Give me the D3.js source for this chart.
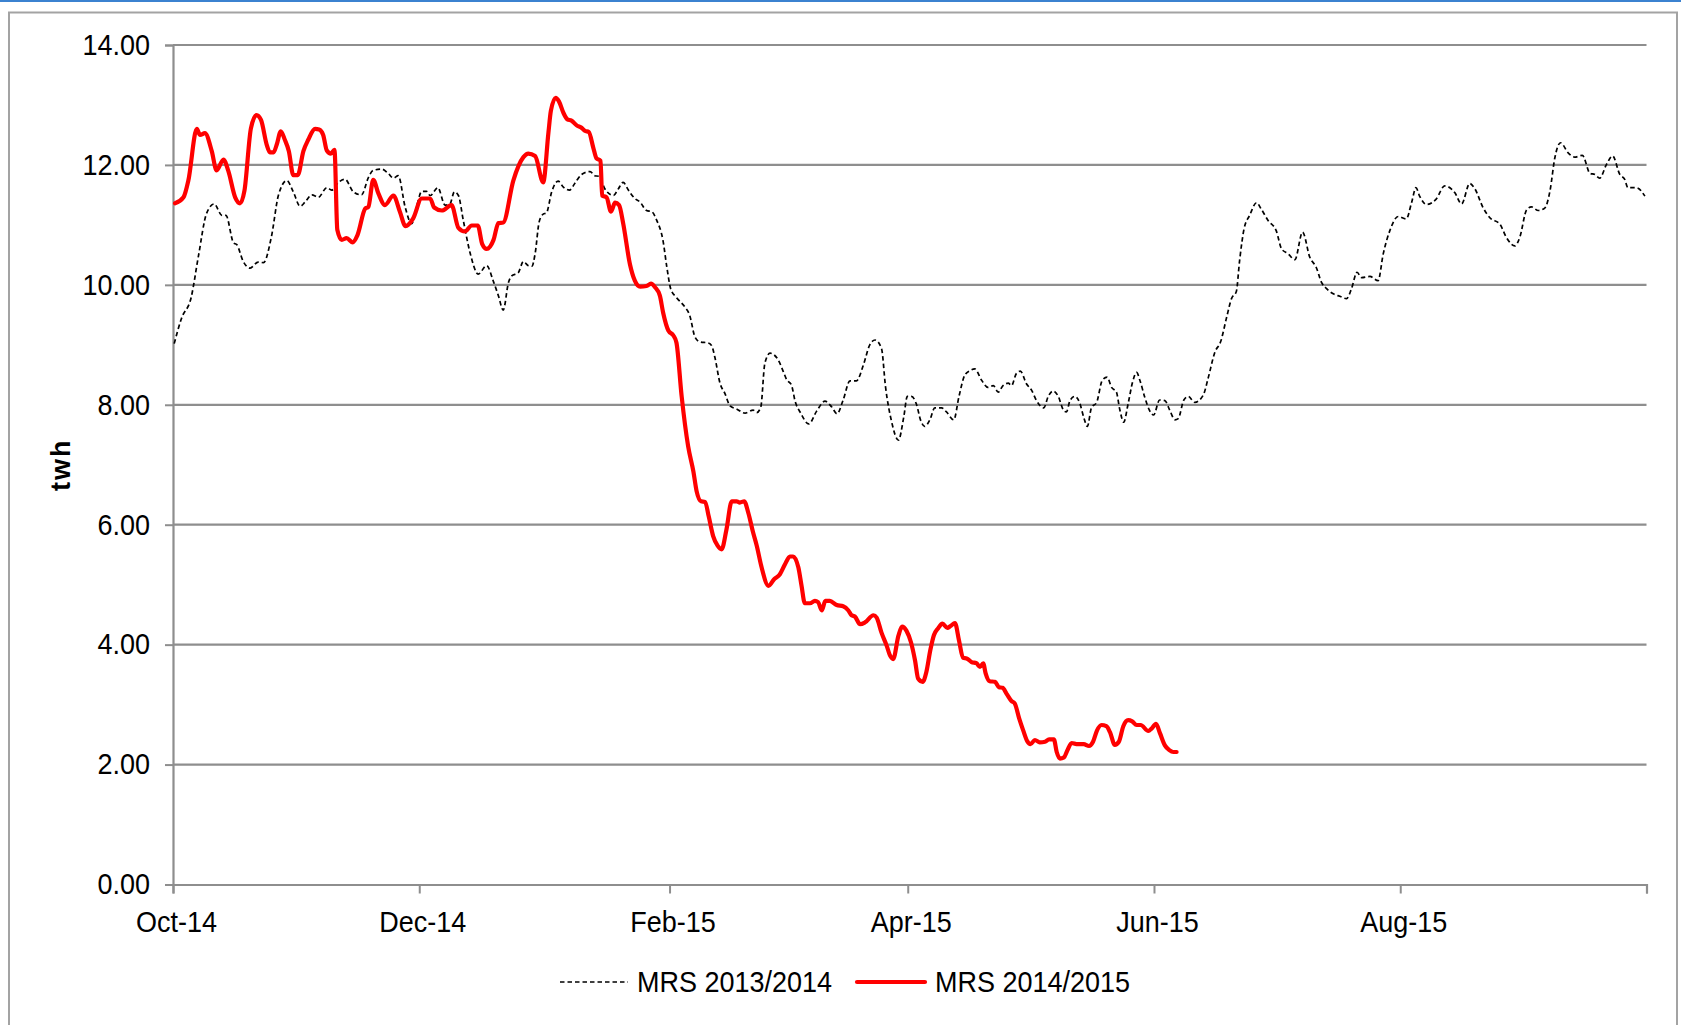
<!DOCTYPE html>
<html>
<head>
<meta charset="utf-8">
<script src="https://cdn.jsdelivr.net/npm/d3@7"></script>
<style>
  html, body { margin: 0; padding: 0; background: #fff; }
  svg { display: block; }
  text { font-family: "Liberation Sans", Arial, sans-serif; fill: #000; }
</style>
</head>
<body>
<svg id="chart" width="1681" height="1025"></svg>
<script>
// ---- DATA (day offsets counted from 1 Oct 2014, values in TWh) ----
const seasonStart = "2014-10-01";
const seasonEnd = "2015-10-01";
const tickDates = ["2014-10-01", "2014-12-01", "2015-02-01", "2015-04-01", "2015-06-01", "2015-08-01", "2015-10-01"];
const tickLabels = ["Oct-14", "Dec-14", "Feb-15", "Apr-15", "Jun-15", "Aug-15", ""];
const yTicks = [0, 2, 4, 6, 8, 10, 12, 14];
const seriesNames = ["MRS 2013/2014", "MRS 2014/2015"];
const yAxisTitle = "twh";

const mrs1314Days = [0.3,2.1,4.5,6.3,8.3,10.2,12.1,13.1,15.0,15.8,17.4,19.1,21.1,22.4,24.4,26.1,28.2,29.8,31.5,32.7,34.4,36.0,38.1,39.3,41.0,42.6,44.7,46.7,48.4,49.6,51.7,53.3,54.6,55.8,57.5,59.1,60.4,61.6,62.8,63.7,65.6,67.4,68.6,69.7,70.7,71.9,73.6,75.6,77.7,79.4,80.6,81.8,83.1,83.9,85.5,86.8,88.0,88.9,89.7,90.7,91.7,92.5,93.8,95.4,96.7,98.2,99.6,101.2,103.3,104.5,105.5,107.0,109.1,110.3,111.5,112.8,114.4,115.7,117.3,118.6,119.8,121.4,122.3,123.3,124.7,126.8,128.0,129.3,130.5,132.6,133.4,134.2,135.5,136.7,138.0,139.6,141.7,143.7,144.6,145.6,146.6,147.9,149.9,151.2,152.0,153.2,154.1,155.5,157.5,159.4,161.5,163.1,164.5,166.0,167.7,169.3,171.0,172.6,173.9,175.5,176.5,178.0,179.7,181.0,181.9,182.9,184.2,185.2,186.2,187.5,188.7,190.4,191.6,193.4,194.7,196.1,197.4,198.6,200.3,201.9,203.2,204.4,205.6,206.9,207.7,208.9,209.9,211.4,212.7,213.9,215.7,216.8,218.0,219.3,220.5,221.3,222.2,223.4,224.6,225.6,226.5,227.5,228.8,230.2,231.4,232.5,233.7,234.5,235.5,236.6,237.7,238.7,239.5,240.7,241.8,242.9,244.4,245.7,246.9,248.2,249.0,250.4,251.5,253.1,255.2,256.4,258.1,259.5,261.0,262.2,263.4,264.2,265.3,266.7,268.4,269.6,271.3,273.3,274.6,276.2,277.9,279.8,281.6,283.2,284.5,285.7,287.4,289.0,290.7,291.9,293.3,294.4,296.5,298.5,299.8,301.4,303.5,305.5,306.8,307.9,308.8,310.5,312.9,315.0,317.5,319.2,321.2,322.5,324.5,326.2,328.7,330.3,332.4,333.6,335.3,336.5,338.2,339.8,341.1,342.3,343.7,345.6,347.2,349.1,351.0,352.2,353.4,355.1,356.6,358.4,359.6,360.4,362.5,364.6];
const mrs1314Values = [9.02,9.44,9.79,10.48,11.19,11.35,11.16,11.16,10.70,10.67,10.39,10.28,10.38,10.37,10.81,11.49,11.74,11.55,11.31,11.38,11.50,11.46,11.62,11.58,11.71,11.76,11.55,11.50,11.79,11.91,11.93,11.86,11.78,11.82,11.30,11.02,11.32,11.56,11.56,11.49,11.62,11.33,11.35,11.55,11.49,11.08,10.53,10.18,10.32,10.05,9.82,9.58,10.04,10.15,10.20,10.39,10.32,10.31,10.52,11.05,11.18,11.20,11.55,11.73,11.63,11.58,11.70,11.84,11.89,11.82,11.81,11.60,11.49,11.60,11.71,11.58,11.44,11.38,11.24,11.22,11.08,10.73,10.31,9.93,9.79,9.63,9.49,9.13,9.05,9.03,8.99,8.80,8.36,8.19,7.98,7.93,7.86,7.91,7.87,7.96,8.69,8.86,8.75,8.55,8.42,8.33,8.06,7.86,7.68,7.89,8.06,7.97,7.85,8.08,8.40,8.40,8.66,9.00,9.08,8.94,8.30,7.72,7.41,7.79,8.14,8.14,8.00,7.74,7.64,7.75,7.95,7.95,7.88,7.75,8.14,8.49,8.57,8.60,8.41,8.29,8.32,8.21,8.32,8.36,8.32,8.52,8.56,8.35,8.24,8.07,7.95,8.14,8.23,8.14,7.92,7.88,8.07,8.14,8.03,7.79,7.64,7.95,8.04,8.41,8.46,8.29,8.21,7.93,7.71,8.02,8.38,8.54,8.41,8.13,7.92,7.83,8.08,8.07,7.91,7.75,7.77,8.08,8.14,8.04,8.16,8.44,8.88,9.05,9.46,9.77,9.89,10.40,10.93,11.16,11.37,11.26,11.07,10.90,10.60,10.52,10.42,10.88,10.46,10.29,10.04,9.94,9.85,9.81,9.77,9.93,10.21,10.12,10.14,10.07,10.52,10.90,11.14,11.10,11.37,11.62,11.48,11.34,11.43,11.65,11.54,11.35,11.69,11.60,11.29,11.12,11.01,10.79,10.65,10.79,11.25,11.30,11.24,11.28,11.57,12.12,12.37,12.20,12.13,12.16,11.86,11.84,11.78,12.01,12.15,11.84,11.76,11.62,11.62,11.48];

const mrs1415Days = [0.5,2.6,3.8,5.9,6.7,7.9,9.6,10.8,12.5,13.7,15.4,16.6,17.7,19.3,20.7,21.8,23.2,24.0,24.9,25.7,26.7,27.7,28.7,29.8,30.9,32.3,33.5,35.2,36.2,37.2,38.1,39.1,40.0,40.7,41.8,43.0,44.5,45.7,47.6,48.4,49.6,50.9,52.5,54.6,56.2,57.6,59.5,61.6,63.7,64.7,66.6,69.0,70.7,72.3,74.0,75.5,76.6,77.7,79.4,80.6,81.8,84.3,86.8,88.0,89.7,91.7,93.0,93.6,94.8,95.6,96.7,97.7,98.7,100.0,101.2,102.0,103.0,104.1,104.9,105.9,106.3,107.4,108.5,109.5,110.5,111.5,113.2,114.4,115.7,117.3,118.4,119.4,120.6,121.4,122.7,123.9,124.7,126.0,127.6,128.9,129.7,130.8,131.8,132.7,133.8,134.9,135.9,137.1,138.4,139.6,140.4,141.5,142.5,143.7,144.6,145.8,147.5,148.9,150.3,151.6,152.8,153.6,154.9,155.7,156.5,157.8,159.0,159.8,160.7,161.6,162.7,164.4,166.0,167.3,168.1,168.9,170.2,171.4,173.5,174.3,175.5,176.8,177.6,178.4,179.7,180.6,181.7,182.8,183.8,184.6,185.7,186.6,187.6,188.5,189.5,190.6,191.8,192.6,193.7,194.7,195.7,196.6,197.8,199.0,199.9,200.7,201.3,202.3,203.6,204.6,205.5,206.5,207.7,208.5,209.6,210.6,211.6,212.4,213.5,214.7,216.0,217.0,218.2,218.9,219.7,220.7,221.5,222.6,223.8,225.6,226.9,227.9,228.9,230.0,231.2,232.1,233.3,234.3,235.4,236.6,237.6,238.7,239.7,241.6,242.4,243.5,244.5,245.7,246.8,247.8,248.6];
const mrs1415Values = [11.36,11.46,11.74,12.60,12.50,12.53,12.23,11.91,12.09,11.90,11.46,11.36,11.57,12.61,12.83,12.75,12.34,12.21,12.21,12.34,12.56,12.42,12.23,11.83,11.83,12.23,12.42,12.60,12.59,12.50,12.24,12.19,12.25,10.92,10.75,10.78,10.71,10.83,11.27,11.30,11.75,11.52,11.33,11.49,11.22,10.98,11.11,11.44,11.44,11.29,11.24,11.33,10.95,10.89,10.99,10.99,10.68,10.60,10.75,11.03,11.04,11.74,12.13,12.19,12.15,11.71,12.54,12.90,13.12,13.06,12.87,12.76,12.74,12.66,12.62,12.57,12.55,12.29,12.11,12.07,11.49,11.46,11.22,11.37,11.33,11.03,10.34,10.07,9.97,9.98,10.02,9.96,9.82,9.54,9.24,9.16,9.04,8.14,7.31,6.89,6.56,6.39,6.38,6.14,5.81,5.65,5.59,5.92,6.39,6.39,6.37,6.39,6.20,5.87,5.65,5.29,4.98,5.09,5.17,5.34,5.47,5.47,5.29,4.98,4.69,4.69,4.73,4.71,4.57,4.73,4.73,4.66,4.64,4.57,4.49,4.47,4.34,4.37,4.49,4.45,4.20,3.98,3.82,3.76,4.15,4.30,4.23,4.04,3.74,3.43,3.38,3.54,3.91,4.16,4.27,4.35,4.28,4.31,4.36,4.07,3.78,3.77,3.71,3.69,3.63,3.69,3.52,3.39,3.38,3.29,3.28,3.18,3.06,3.02,2.77,2.57,2.39,2.34,2.41,2.37,2.38,2.42,2.42,2.21,2.10,2.12,2.23,2.36,2.34,2.34,2.31,2.38,2.57,2.66,2.64,2.54,2.33,2.38,2.64,2.74,2.72,2.66,2.66,2.56,2.60,2.68,2.52,2.32,2.24,2.21,2.21];

// ---- CHART ----
const W = 1681, H = 1025;
const plot = { left: 173, right: 1646.5, top: 45, bottom: 884.5 };
const parse = d3.utcParse("%Y-%m-%d");
const start = parse(seasonStart);
const toDate = d => new Date(start.getTime() + d * 86400000);

const svg = d3.select("#chart");
svg.append("rect").attr("width", W).attr("height", H).attr("fill", "#fff");

// top blue rule and outer frame
svg.append("rect").attr("x", 0).attr("y", 0).attr("width", W).attr("height", 2).attr("fill", "#3b82d0");
svg.append("path")
  .attr("d", `M9,${H + 5} L9,12.5 L1677,12.5 L1677,${H + 5}`)
  .attr("fill", "none").attr("stroke", "#a3a3a3").attr("stroke-width", 2);

const x = d3.scaleUtc().domain([start, parse(seasonEnd)]).range([plot.left, plot.right]);
const y = d3.scaleLinear().domain([0, 14]).range([plot.bottom, plot.top]);

const gridColor = "#8e8e8e";
const labelFont = "Liberation Sans, Arial, sans-serif";
const stretch = 1.08; // reference glyphs are slightly taller than wide

// horizontal gridlines
svg.append("g").selectAll("line").data(yTicks.filter(v => v > 0)).join("line")
  .attr("x1", plot.left).attr("x2", plot.right)
  .attr("y1", d => y(d)).attr("y2", d => y(d))
  .attr("stroke", gridColor).attr("stroke-width", 2.2);

// y axis
const yAxis = d3.axisLeft(y).tickValues(yTicks).tickSize(8).tickPadding(15)
  .tickFormat(d3.format(".2f"));
const gy = svg.append("g").attr("transform", `translate(${plot.left},0)`).call(yAxis);
gy.select(".domain").attr("stroke", gridColor).attr("stroke-width", 2.2);
gy.selectAll(".tick line").attr("stroke", gridColor).attr("stroke-width", 2);
gy.selectAll(".tick text").attr("font-size", 27).attr("font-family", labelFont).attr("fill", "#000")
  .attr("transform", `scale(1,${stretch})`);

// x axis
const xAxis = d3.axisBottom(x).tickValues(tickDates.map(parse)).tickSize(9).tickPadding(16)
  .tickFormat((d, i) => tickLabels[i]);
const gx = svg.append("g").attr("transform", `translate(0,${plot.bottom})`).call(xAxis);
gx.select(".domain").attr("stroke", gridColor).attr("stroke-width", 2.2);
gx.selectAll(".tick line").attr("stroke", gridColor).attr("stroke-width", 2);
gx.selectAll(".tick text").attr("font-size", 27).attr("font-family", labelFont).attr("fill", "#000")
  .attr("dx", 3).attr("transform", `scale(1,${stretch})`);

// y axis title
svg.append("text")
  .attr("transform", `translate(70,${(plot.top + plot.bottom) / 2}) rotate(-90)`)
  .attr("text-anchor", "middle")
  .attr("font-size", 27).attr("font-weight", "bold").attr("letter-spacing", 2)
  .text(yAxisTitle);

// lines
const line = d3.line().x(d => x(toDate(d[0]))).y(d => y(d[1])).curve(d3.curveMonotoneX);
const s1314 = mrs1314Days.map((d, i) => [d, mrs1314Values[i]]);
const s1415 = mrs1415Days.map((d, i) => [d, mrs1415Values[i]]);

svg.append("path").datum(s1314).attr("d", line)
  .attr("fill", "none").attr("stroke", "#000").attr("stroke-width", 1.7)
  .attr("stroke-dasharray", "4.5,3");
svg.append("path").datum(s1415).attr("d", line)
  .attr("fill", "none").attr("stroke", "#ff0000").attr("stroke-width", 4.2)
  .attr("stroke-linejoin", "round").attr("stroke-linecap", "round");

// legend
const legendY = 982;
const lg = svg.append("g");
lg.append("line").attr("x1", 560).attr("x2", 628).attr("y1", legendY).attr("y2", legendY)
  .attr("stroke", "#000").attr("stroke-width", 1.7).attr("stroke-dasharray", "4.5,3");
lg.append("text").attr("transform", `translate(637,${legendY + 10}) scale(1,${stretch})`)
  .attr("font-size", 27).text(seriesNames[0]);
lg.append("line").attr("x1", 857).attr("x2", 925).attr("y1", legendY).attr("y2", legendY)
  .attr("stroke", "#ff0000").attr("stroke-width", 4.2).attr("stroke-linecap", "round");
lg.append("text").attr("transform", `translate(935,${legendY + 10}) scale(1,${stretch})`)
  .attr("font-size", 27).text(seriesNames[1]);
</script>
</body>
</html>
